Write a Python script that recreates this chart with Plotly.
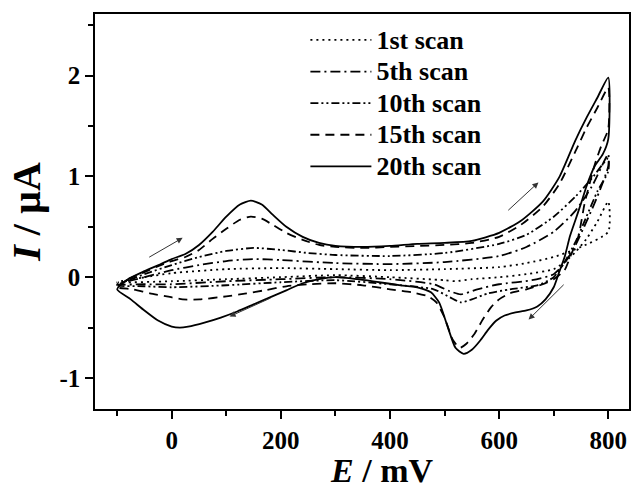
import plotly.graph_objects as go

# ---- data (E in mV, I in µA), forward sweep then reverse sweep ----
scan1_E = [-100, -50, 0, 100, 200, 300, 400, 500, 600, 650, 700, 750, 800,
           800, 780, 760, 740, 720, 700, 650, 600, 550, 520, 500, 400, 300, 200, 100, 0, -100]
scan1_I = [-0.05, 0.0, 0.04, 0.08, 0.09, 0.08, 0.07, 0.08, 0.10, 0.14, 0.20, 0.30, 0.45,
           0.75, 0.55, 0.38, 0.25, 0.15, 0.08, 0.03, 0.0, -0.02, -0.04, -0.03, 0.0, 0.02, 0.0, -0.02, -0.04, -0.05]

scan5_E = [-100, -50, 0, 50, 100, 150, 200, 300, 400, 500, 600, 650, 700, 740, 770, 800,
           800, 780, 760, 740, 720, 700, 660, 600, 560, 530, 510, 480, 400, 300, 200, 100, 0, -50, -100]
scan5_I = [-0.07, 0.0, 0.07, 0.12, 0.16, 0.18, 0.17, 0.14, 0.13, 0.15, 0.21, 0.30, 0.45, 0.66, 0.90, 1.22,
           1.10, 0.80, 0.55, 0.32, 0.14, 0.03, -0.03, -0.07, -0.12, -0.17, -0.14, -0.07, -0.02, 0.0, -0.02, -0.04, -0.07, -0.07, -0.07]

scan10_E = [-100, -50, 0, 50, 100, 150, 200, 250, 300, 400, 500, 600, 650, 700, 740, 770, 800,
            800, 780, 760, 740, 720, 700, 670, 620, 580, 550, 530, 510, 480, 400, 300, 200, 100, 0, -50, -100]
scan10_I = [-0.08, 0.03, 0.12, 0.20, 0.26, 0.29, 0.27, 0.24, 0.22, 0.21, 0.24, 0.33, 0.42, 0.60, 0.80, 0.98, 1.18,
            1.05, 0.85, 0.60, 0.35, 0.15, 0.0, -0.08, -0.12, -0.16, -0.22, -0.25, -0.20, -0.12, -0.07, -0.03, -0.05, -0.08, -0.10, -0.09, -0.08]

scan15_E = [-100, -80, -50, -20, 0, 25, 50, 75, 100, 125, 145, 165, 185, 210, 240, 270, 300, 350, 400, 450, 500,
            550, 600, 640, 680, 710, 740, 760, 780, 800,
            800, 787, 776, 757, 745, 730, 720, 700, 680, 650, 620, 600, 585, 570, 555, 540, 528, 515, 500, 485,
            470, 440, 400, 350, 300, 250, 210, 170, 137, 100, 51, 20, -9, -40, -71, -100]
scan15_I = [-0.10, -0.02, 0.05, 0.12, 0.16, 0.20, 0.27, 0.38, 0.48, 0.57, 0.60, 0.58, 0.52, 0.44, 0.37, 0.32, 0.30, 0.29, 0.30, 0.31, 0.32,
            0.34, 0.40, 0.52, 0.70, 0.92, 1.25, 1.48, 1.68, 1.88,
            1.47, 1.30, 1.13, 0.74, 0.40, 0.20, 0.07, -0.02, -0.07, -0.12, -0.16, -0.22, -0.30, -0.42, -0.56, -0.66, -0.70, -0.62, -0.40, -0.25,
            -0.19, -0.15, -0.12, -0.08, -0.06, -0.07, -0.09, -0.13, -0.16, -0.19, -0.22, -0.22, -0.19, -0.16, -0.12, -0.10]

scan20_E = [-100, -80, -50, -20, 0, 25, 50, 75, 100, 125, 145, 165, 185, 210, 240, 270, 300, 350, 400, 450, 500,
            550, 600, 640, 680, 710, 740, 760, 780, 800,
            800, 790, 775, 760, 750, 740, 730, 720, 710, 700, 685, 670, 650, 630, 610, 595, 580, 565, 550, 535,
            520, 505, 490, 475, 450, 420, 380, 340, 300, 270, 240, 210, 180, 150, 120, 90, 60, 30, 15, 0,
            -25, -50, -75, -100]
scan20_I = [-0.12, -0.02, 0.06, 0.13, 0.18, 0.23, 0.32, 0.45, 0.60, 0.72, 0.76, 0.72, 0.62, 0.50, 0.40, 0.34, 0.31, 0.30, 0.31, 0.33, 0.34,
            0.36, 0.44, 0.56, 0.75, 0.99, 1.36, 1.58, 1.78, 1.98,
            1.37, 1.22, 1.10, 0.90, 0.73, 0.57, 0.41, 0.20, 0.05, -0.10, -0.22, -0.29, -0.33, -0.35, -0.38, -0.43, -0.52, -0.63, -0.72, -0.76,
            -0.70, -0.48, -0.25, -0.15, -0.10, -0.08, -0.05, -0.02, 0.0, -0.02, -0.06, -0.13, -0.20, -0.27, -0.34, -0.40, -0.45, -0.49, -0.50, -0.49,
            -0.43, -0.33, -0.22, -0.12]

scan_names = ["1st scan", "5th scan", "10th scan", "15th scan", "20th scan"]
scan_dashes = ["2px,4px", "10px,4px,2px,4px", "8px,3px,2px,3px,2px,3px", "9px,6px", "solid"]

x_tick_vals = [0, 200, 400, 600, 800]
x_tick_text = ["0", "200", "400", "600", "800"]
y_tick_vals = [-1, 0, 1, 2]
y_tick_text = ["-1", "0", "1", "2"]

# arrows: (tail E, tail I, head E, head I)
arrows = [(-44, 0.19, 20, 0.39), (184, -0.20, 106, -0.39),
          (614, 0.65, 672, 0.94), (721, -0.06, 654, -0.42)]

FONT = "Liberation Serif"

fig = go.Figure()
series = [(scan1_E, scan1_I), (scan5_E, scan5_I), (scan10_E, scan10_I), (scan15_E, scan15_I), (scan20_E, scan20_I)]
for (E, I), name, dash in zip(series, scan_names, scan_dashes):
    fig.add_trace(go.Scatter(x=E, y=I, mode="lines",
                             name='<span style="font-size:26px">' + name + '</span>',
                             legendgroup=name,
                             line=dict(color="black", width=1.8, dash=dash, shape="spline", smoothing=0.6)))

for (x0, y0, x1, y1) in arrows:
    fig.add_annotation(x=x1, y=y1, ax=x0, ay=y0, xref="x", yref="y", axref="x", ayref="y",
                       showarrow=True, arrowhead=2, arrowsize=1.2, arrowwidth=1, arrowcolor="#333333", text="")

# x-axis title (placed as annotation to match the reference's offset)
fig.add_annotation(text="<b><i>E</i> / mV</b>", xref="paper", yref="paper", x=0.537, y=-0.2063,
                   xanchor="center", yanchor="bottom", showarrow=False, borderpad=0,
                   font=dict(family=FONT, size=34, color="black"))

axis_common = dict(showline=True, linecolor="black", linewidth=1.5, mirror=True, showgrid=False,
                   zeroline=False, ticks="outside", tickcolor="black", ticklen=8, tickwidth=1.5,
                   tickfont=dict(family=FONT, size=25, color="black", weight="bold"))

fig.update_layout(
    width=636, height=491,
    margin=dict(l=95, r=5, t=14, b=82),
    paper_bgcolor="white", plot_bgcolor="white",
    showlegend=True,
    legend=dict(x=0.394, y=0.987, xanchor="left", yanchor="top", bgcolor="rgba(0,0,0,0)",
                font=dict(family=FONT, size=22, color="black", weight="bold"),
                itemwidth=61, tracegroupgap=0),
    xaxis=dict(range=[-140.6, 838], tickvals=x_tick_vals, ticktext=x_tick_text,
               minor=dict(dtick=100, tick0=0, ticks="outside", ticklen=5, tickcolor="black", tickwidth=1.5),
               **axis_common),
    yaxis=dict(range=[-1.307, 2.61], tickvals=y_tick_vals, ticktext=y_tick_text,
               minor=dict(dtick=0.5, tick0=0, ticks="outside", ticklen=5, tickcolor="black", tickwidth=1.5),
               title=dict(text="<b><i>I</i> / µA</b>", font=dict(family=FONT, size=40, color="black"), standoff=6),
               **axis_common),
)

fig.write_html("out.html")
